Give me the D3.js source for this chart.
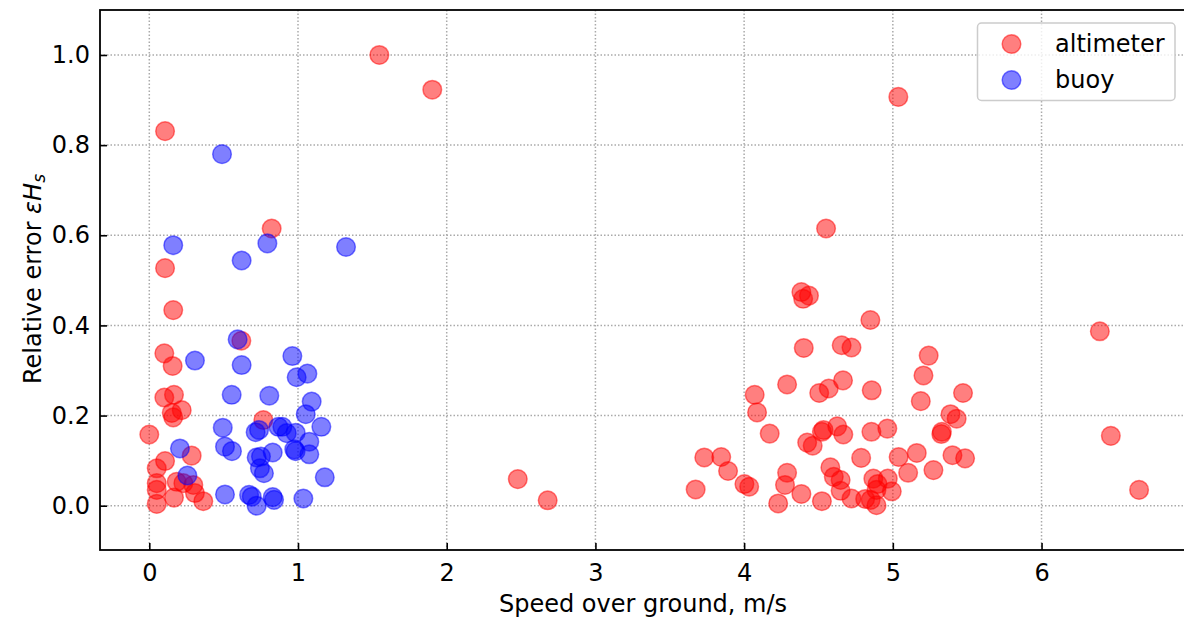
<!DOCTYPE html>
<html>
<head>
<meta charset="utf-8">
<script src="https://cdn.jsdelivr.net/npm/d3@7"></script>
<style>
  body { margin: 0; background: #fff; }
  text { font-family: "DejaVu Sans", sans-serif; fill: #000; }
</style>
</head>
<body>
<div id="chart"></div>
<script>
// values
var altimeterSpeed = [1.547, 1.903, 0.106, 0.823, 0.106, 0.161, 0.619, 0.101, 0.157, 0.101,
    0.166, 0.218, 0.151, 0.161, 0.767, 0.0, 0.285, 0.106, 0.050, 0.184,
    0.229, 0.296, 0.050, 0.050, 0.166, 0.307, 0.363, 0.050, 2.478, 2.679,
    4.385, 4.436, 4.397, 4.849, 6.392, 4.401, 4.656, 4.722, 5.241, 5.206,
    4.289, 4.665, 4.569, 4.505, 4.858, 4.071, 5.472, 5.188, 4.087, 5.388,
    5.429, 4.172, 4.424, 4.461, 4.523, 4.534, 4.626, 4.667, 4.856, 4.963,
    5.326, 5.330, 3.732, 3.846, 3.892, 4.787, 5.039, 5.161, 5.401, 5.486,
    4.289, 4.580, 4.603, 4.649, 5.103, 5.273, 4.869, 4.966, 4.897, 4.890,
    4.993, 3.674, 4.002, 4.034, 4.275, 4.385, 4.649, 4.229, 4.523, 4.722,
    4.814, 4.851, 4.890, 6.466, 6.656, 4.551, 5.037];
var altimeterError = [1.0, 0.923, 0.831, 0.615, 0.527, 0.434, 0.366, 0.338, 0.310, 0.240,
    0.246, 0.212, 0.206, 0.196, 0.190, 0.158, 0.111, 0.099, 0.083, 0.053,
    0.050, 0.046, 0.050, 0.035, 0.018, 0.028, 0.010, 0.004, 0.059, 0.012,
    0.474, 0.466, 0.459, 0.412, 0.387, 0.350, 0.356, 0.351, 0.333, 0.289,
    0.269, 0.278, 0.260, 0.250, 0.256, 0.246, 0.250, 0.232, 0.207, 0.203,
    0.193, 0.160, 0.140, 0.133, 0.164, 0.168, 0.176, 0.158, 0.164, 0.171,
    0.159, 0.164, 0.107, 0.108, 0.077, 0.106, 0.108, 0.117, 0.112, 0.105,
    0.073, 0.085, 0.064, 0.057, 0.073, 0.079, 0.060, 0.060, 0.048, 0.035,
    0.032, 0.036, 0.048, 0.042, 0.046, 0.026, 0.033, 0.005, 0.010, 0.016,
    0.015, 0.013, 0.001, 0.155, 0.035, 0.615, 0.907];

var buoySpeed = [0.489, 0.161, 0.621, 0.794, 1.323, 0.594, 0.307, 0.621, 0.962, 1.063,
    0.991, 0.554, 0.807, 1.092, 1.052, 0.494, 0.715, 0.738, 0.868, 0.895,
    0.924, 0.984, 1.157, 1.076, 0.206, 0.509, 0.556, 0.722, 0.751, 0.830,
    0.984, 0.975, 1.076, 0.744, 0.771, 1.180, 0.256, 0.509, 0.671, 0.689,
    0.722, 0.830, 0.839, 1.036];
var buoyError = [0.780, 0.578, 0.544, 0.582, 0.574, 0.369, 0.322, 0.312, 0.332, 0.293,
    0.285, 0.246, 0.244, 0.231, 0.203, 0.173, 0.163, 0.168, 0.175, 0.175,
    0.161, 0.162, 0.175, 0.142, 0.127, 0.131, 0.121, 0.107, 0.109, 0.118,
    0.121, 0.125, 0.114, 0.083, 0.072, 0.063, 0.067, 0.025, 0.024, 0.020,
    0.0, 0.019, 0.013, 0.016];

var xTicks = [0, 1, 2, 3, 4, 5, 6];
var yTicks = [0.0, 0.2, 0.4, 0.6, 0.8, 1.0];
var seriesNames = ["altimeter", "buoy"];
var seriesColors = ["#ff0000", "#0000ff"];

var width = 1184,
    height = 619,
    plotLeft = 100, plotRight = 1184, plotTop = 10, plotBottom = 550,
    fontSize = 24;

var svg = d3.select("#chart").append("svg")
    .attr("width", width)
    .attr("height", height);

var x = d3.scaleLinear().domain([-0.3315, 6.958]).range([plotLeft, plotRight]);
var y = d3.scaleLinear().domain([-0.0983, 1.0998]).range([plotBottom, plotTop]);

/* dotted grid */
svg.append("g").selectAll("line")
    .data(xTicks)
    .enter().append("line")
    .attr("x1", function (d) { return x(d); })
    .attr("x2", function (d) { return x(d); })
    .attr("y1", plotTop)
    .attr("y2", plotBottom)
    .attr("stroke", "#aaaaaa")
    .attr("stroke-width", 1.5)
    .attr("stroke-dasharray", "1.5,2");

svg.append("g").selectAll("line")
    .data(yTicks)
    .enter().append("line")
    .attr("x1", plotLeft)
    .attr("x2", plotRight)
    .attr("y1", function (d) { return y(d); })
    .attr("y2", function (d) { return y(d); })
    .attr("stroke", "#aaaaaa")
    .attr("stroke-width", 1.5)
    .attr("stroke-dasharray", "1.5,2");

/* scatter points, altimeter first so buoy sits on top */
var series = [
    {name: seriesNames[0], color: seriesColors[0], xs: altimeterSpeed, ys: altimeterError},
    {name: seriesNames[1], color: seriesColors[1], xs: buoySpeed, ys: buoyError}
];

series.forEach(function (s) {
    var pts = s.xs.map(function (v, i) { return {sx: v, sy: s.ys[i]}; });
    svg.append("g").selectAll("circle")
        .data(pts)
        .enter().append("circle")
        .attr("cx", function (d) { return x(d.sx); })
        .attr("cy", function (d) { return y(d.sy); })
        .attr("r", 9.3)
        .attr("fill", s.color)
        .attr("fill-opacity", 0.5)
        .attr("stroke", s.color)
        .attr("stroke-opacity", 0.5)
        .attr("stroke-width", 1.5);
});

/* axes, ticks pointing inward */
var xAxis = svg.append("g")
    .attr("transform", "translate(0," + plotBottom + ")")
    .call(d3.axisBottom(x).tickValues(xTicks).tickFormat(d3.format("d")).tickSizeInner(-7).tickSizeOuter(0).tickPadding(14));

var yAxis = svg.append("g")
    .attr("transform", "translate(" + plotLeft + ",0)")
    .call(d3.axisLeft(y).tickValues(yTicks).tickFormat(d3.format(".1f")).tickSizeInner(-7).tickSizeOuter(0).tickPadding(10));

[xAxis, yAxis].forEach(function (a) {
    a.select(".domain").remove();
    a.selectAll(".tick line").attr("stroke", "#000").attr("stroke-width", 1.6);
    a.selectAll(".tick text")
        .attr("font-family", "DejaVu Sans")
        .attr("font-size", fontSize)
        .attr("fill", "#000");
});

/* frame */
svg.append("rect")
    .attr("x", plotLeft)
    .attr("y", plotTop)
    .attr("width", plotRight - plotLeft + 5)
    .attr("height", plotBottom - plotTop)
    .attr("fill", "none")
    .attr("stroke", "#000")
    .attr("stroke-width", 1.8);

/* axis labels */
svg.append("text")
    .attr("x", 643)
    .attr("y", 612)
    .attr("text-anchor", "middle")
    .attr("font-size", fontSize)
    .text("Speed over ground, m/s");

var yLabel = svg.append("text")
    .attr("transform", "translate(41,279) rotate(-90)")
    .attr("text-anchor", "middle")
    .attr("font-size", fontSize);
yLabel.append("tspan").text("Relative error ");
yLabel.append("tspan").attr("font-style", "italic").text("εH");
yLabel.append("tspan").attr("font-style", "italic").attr("font-size", 17).attr("dy", 4).text("s");

/* legend */
var legend = svg.append("g");
legend.append("rect")
    .attr("x", 977.5)
    .attr("y", 23)
    .attr("width", 197.5)
    .attr("height", 77.5)
    .attr("rx", 4)
    .attr("fill", "#fff")
    .attr("fill-opacity", 0.8)
    .attr("stroke", "#cccccc")
    .attr("stroke-width", 1.5);

var item = legend.selectAll(".item")
    .data(series)
    .enter().append("g")
    .attr("transform", function (d, i) { return "translate(0," + (44 + i * 36) + ")"; });

item.append("circle")
    .attr("cx", 1011.5)
    .attr("cy", 0)
    .attr("r", 9.3)
    .attr("fill", function (d) { return d.color; })
    .attr("fill-opacity", 0.5)
    .attr("stroke", function (d) { return d.color; })
    .attr("stroke-opacity", 0.5)
    .attr("stroke-width", 1.5);

item.append("text")
    .attr("x", 1055)
    .attr("y", 8)
    .attr("font-size", fontSize)
    .text(function (d) { return d.name; });
</script>
</body>
</html>
